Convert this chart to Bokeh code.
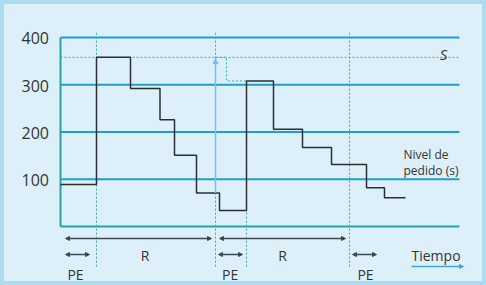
from bokeh.plotting import figure
from bokeh.models import Range1d, Arrow, NormalHead
from bokeh.embed import file_html
from bokeh.resources import INLINE
from bokeh.core.properties import value

# ---- data (time in arbitrary units, stock in units) ----
level_values = [0, 100, 200, 300, 400]
level_labels = ["", "100", "200", "300", "400"]
step_times = [0, 36, 70, 99.5, 114, 136, 159, 186, 213, 242, 271, 306, 324, 345]
stock_levels = [89, 358, 292, 226, 151, 71, 34, 308, 206, 167, 131, 82, 61, 61]
S_level = 358
review_times = [36, 155, 289]
arrival_time = 186
order_stock = 71
arrival_stock = 308
order_corner = 166
R_periods = [(5, 151), (159, 285)]
PE_periods = [(5, 29), (158, 182), (292, 316)]
t_end = 399

FONT = "Open Sans"
TEXT = "#333333"
GRID = "#1e9fcc"
BASE = "#26a3a8"
DOT = "#3aa7bf"
DARK = "#3b4950"

p = figure(width=486, height=285, x_range=Range1d(-60, 426), y_range=Range1d(-124.9, 478.3),
           output_backend="svg", toolbar_location=None, min_border=0)
p.xaxis.visible = False
p.yaxis.visible = False
p.grid.visible = False
p.background_fill_color = "#ddf0fa"
p.border_fill_color = "#ddf0fa"
p.outline_line_color = "#addbef"
p.outline_line_width = 7

# horizontal level lines
for v in level_values:
    p.segment(x0=[0], y0=[v], x1=[t_end], y1=[v],
              line_color=BASE if v == 0 else GRID, line_width=2)
# left vertical line
p.segment(x0=[0], y0=[level_values[0]], x1=[0], y1=[level_values[-1]], line_color=BASE, line_width=2)

# S dotted line
p.segment(x0=[0], y0=[S_level], x1=[t_end], y1=[S_level], line_color=DOT, line_width=1, line_dash="2 2")

# vertical dotted review lines
for t in review_times:
    p.segment(x0=[t], y0=[-85], x1=[t], y1=[410], line_color=DOT, line_width=1, line_dash="2 2")
p.segment(x0=[arrival_time], y0=[-85], x1=[arrival_time], y1=[stock_levels[6]], line_color=DOT,
          line_width=1, line_dash="2 2")

# order path dotted
p.line(x=[review_times[1], order_corner, order_corner, arrival_time],
       y=[S_level, S_level, arrival_stock, arrival_stock], line_color=DOT, line_width=1, line_dash="2 2")

# order quantity arrow
p.add_layout(Arrow(x_start=review_times[1], y_start=order_stock, x_end=review_times[1], y_end=S_level - 3,
                   line_color="#6fc4e4", line_width=1.5,
                   end=NormalHead(size=5, fill_color="#6fc4e4", line_color="#6fc4e4")))

# stock step line
p.step(x=step_times, y=stock_levels, mode="after", line_color="#2a2f33", line_width=1.5)

# R and PE arrows
for a, b in R_periods:
    p.add_layout(Arrow(x_start=a, y_start=-25.4, x_end=b, y_end=-25.4, line_color=DARK, line_width=1.5,
                       start=NormalHead(size=4, fill_color=DARK, line_color=DARK),
                       end=NormalHead(size=4, fill_color=DARK, line_color=DARK)))
for a, b in PE_periods:
    p.add_layout(Arrow(x_start=a, y_start=-59.3, x_end=b, y_end=-59.3, line_color=DARK, line_width=1.5,
                       start=NormalHead(size=4, fill_color=DARK, line_color=DARK),
                       end=NormalHead(size=4, fill_color=DARK, line_color=DARK)))

# time arrow
p.add_layout(Arrow(x_start=351, y_start=-84.7, x_end=403, y_end=-84.7, line_color="#3aaad5", line_width=1.5,
                   end=NormalHead(size=4, fill_color="#3aaad5", line_color="#3aaad5")))

# texts
p.text(x=[-39] * 4, y=[v - 2 for v in level_values[1:]], text=level_labels[1:],
       text_font=value(FONT), text_font_size="16px", text_color=TEXT,
       text_align="left", text_baseline="alphabetic")
p.text(x=[84.5, 222], y=[-61.4, -61.4], text=["R", "R"], text_font=value(FONT), text_font_size="14px",
       text_color=TEXT, text_align="center", text_baseline="alphabetic")
p.text(x=[15, 169.7, 305], y=[-101.6] * 3, text=["PE"] * 3, text_font=value(FONT), text_font_size="14px",
       text_color=TEXT, text_align="center", text_baseline="alphabetic")
p.text(x=[351], y=[-61.4], text=["Tiempo"], text_font=value(FONT), text_font_size="14px",
       text_color=TEXT, text_align="left", text_baseline="alphabetic")
p.text(x=[343, 343], y=[153, 119], text=["Nivel de", "pedido (s)"], text_font=value(FONT),
       text_font_size="12px", text_color=TEXT, text_align="left", text_baseline="alphabetic")
p.text(x=[383], y=[366], text=["S"], text_font=value(FONT), text_font_size="15px",
       text_font_style="italic", text_color=TEXT, text_align="center", text_baseline="alphabetic")

open("out.html", "w").write(file_html(p, INLINE))
